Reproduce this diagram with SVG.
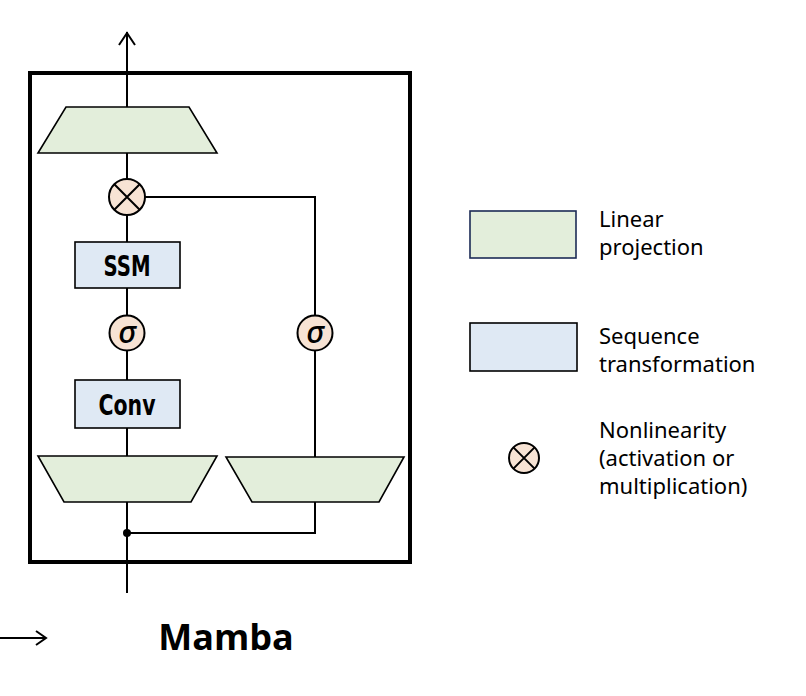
<svg xmlns="http://www.w3.org/2000/svg" width="806" height="696" viewBox="0 0 806 696">
<style>
.proj{fill:#e3eedb;stroke:#000;stroke-width:1.6}
.seq{fill:#dfe9f4;stroke:#000;stroke-width:1.6}
.nl{fill:#f7e3d4;stroke:#000;stroke-width:2}
.ln{fill:none;stroke:#000;stroke-width:2}
.box{font-family:"DejaVu Sans Condensed","DejaVu Sans",sans-serif;font-weight:bold;font-size:28px;fill:#000}
.sig{font-family:"Noto Sans","Open Sans",sans-serif;font-style:italic;font-weight:500;font-size:31px;fill:#000}
.leg{font-family:"Noto Sans","Open Sans",sans-serif;font-size:22px;fill:#000}
</style>
<rect x="0" y="0" width="806" height="696" fill="#fff"/>
<g id="block"><rect x="30" y="73" width="380" height="489" fill="none" stroke="#000" stroke-width="4"/></g>
<g id="connectors">
<path class="ln" d="M127 32V107M127 153V179M127 215V242M127 288V316M127 351V380M127 428V456M127 502V593"/>
<path class="ln" d="M119 45L127 33L135 45"/>
<path class="ln" d="M145 197H315V316M315 351V457M315 502V533H127"/>
<circle cx="127" cy="533" r="4" fill="#000"/>
<path class="ln" d="M0 638H46M36 631L46 638L36 645"/>
</g>
<g id="out-proj"><polygon class="proj" points="66,107 189,107 217,153 38,153"/></g>
<g id="mul"><circle class="nl" cx="127" cy="197" r="18"/><path class="ln" d="M114.3 184.3L139.7 209.7M139.7 184.3L114.3 209.7"/></g>
<g id="ssm"><rect class="seq" x="75" y="242" width="105" height="46"/><text class="box" x="127" y="276" text-anchor="middle" textLength="47" lengthAdjust="spacingAndGlyphs">SSM</text></g>
<g id="sigma1"><circle class="nl" cx="127" cy="333" r="17.5"/><text class="sig" x="127" y="343" text-anchor="middle">σ</text></g>
<g id="sigma2"><circle class="nl" cx="315" cy="333" r="17.5"/><text class="sig" x="315" y="343" text-anchor="middle">σ</text></g>
<g id="conv"><rect class="seq" x="75" y="380" width="105" height="48"/><text class="box" x="127" y="415" text-anchor="middle" textLength="57" lengthAdjust="spacingAndGlyphs">Conv</text></g>
<g id="in-proj-x"><polygon class="proj" points="38,456 217,456 191,502 64,502"/></g>
<g id="in-proj-z"><polygon class="proj" points="226,457 404,457 379,502 252,502"/></g>
<g id="legend">
<rect x="470" y="211" width="106" height="47" fill="#e3eedb" stroke="#1c2b55" stroke-width="1.6"/>
<text class="leg" x="599" y="227">Linear</text>
<text class="leg" x="599" y="255">projection</text>
<rect class="seq" x="470" y="323" width="107" height="48"/>
<text class="leg" x="599" y="344">Sequence</text>
<text class="leg" x="599" y="372">transformation</text>
<circle class="nl" cx="524" cy="458" r="15"/>
<path class="ln" d="M513.4 447.4L534.6 468.6M534.6 447.4L513.4 468.6"/>
<text class="leg" x="599" y="438">Nonlinearity</text>
<text class="leg" x="599" y="466">(activation or</text>
<text class="leg" x="599" y="494">multiplication)</text>
</g>
<text id="title" x="226" y="650" text-anchor="middle" font-family="'Open Sans','Noto Sans',sans-serif" font-weight="bold" font-size="36" fill="#000">Mamba</text>
</svg>
